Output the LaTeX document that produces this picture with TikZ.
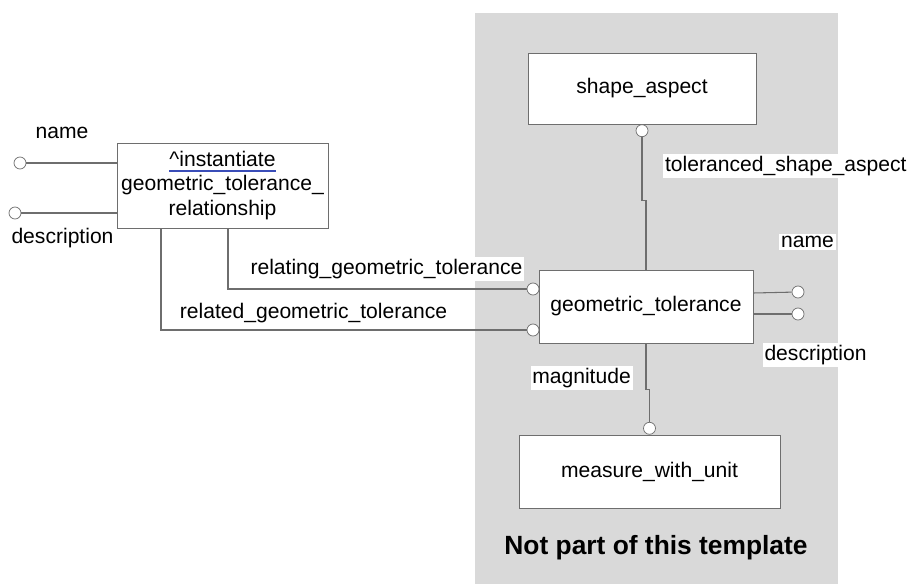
\documentclass[tikz,border=0pt]{standalone}
\usepackage{fontspec}
\setmainfont{Liberation Sans}
\usetikzlibrary{positioning, calc}

\definecolor{linegray}{HTML}{6E6E6E}
\definecolor{zonegray}{HTML}{D9D9D9}
\definecolor{ulblue}{HTML}{3A4DB8}
\newcommand{\blueunderline}[1]{\setbox0\hbox{#1}\rlap{\color{ulblue}\rule[-3.2pt]{\wd0}{1.3pt}}\box0}

\begin{document}
\begin{tikzpicture}[
  font=\fontsize{12}{14}\selectfont,
  entity/.style={draw=linegray, fill=white, minimum width=4.4cm, minimum height=1.46cm, align=center, inner sep=2pt},
  ring/.style={circle, draw=linegray, fill=white, minimum size=0.24cm, inner sep=0pt},
  link/.style={linegray, semithick},
  attr/.style={fill=white, inner sep=1pt},
]
\useasboundingbox (0,0) rectangle (18.24,11.68);
\fill[zonegray] (9.5,0) rectangle (16.76,11.42);
\node[font=\fontsize{15}{18}\selectfont\bfseries] (note) at (13.12,0.72) {Not part of this template};

% entities
\node[entity, minimum width=4.56cm, minimum height=1.42cm] (sa) at (12.84,9.91) {shape\_aspect};
\node[entity, minimum width=4.28cm] (gt) at (12.92,5.55) {geometric\_tolerance};
\node[entity, minimum width=5.22cm] (mwu) at (12.99,2.25) {measure\_with\_unit};
\node[entity, minimum width=4.22cm, minimum height=1.70cm] (gtr) at (4.45,7.97)
  {\blueunderline{\textasciicircum instantiate}\\ geometric\_tolerance\_\\ relationship};

% toleranced_shape_aspect
\node[ring, below=0pt of sa] (sac) {};
\draw[link] (sac.south) -- ++(0,-1.26) -| (gt.north);
\node[attr, anchor=west] (tsa) at (13.26,8.36) {toleranced\_shape\_aspect};

% magnitude
\node[ring, above=0pt of mwu] (mwuc) {};
\draw[link] (gt.south) -- ++(0,-0.92) -| (mwuc.north);
\node[attr] (mag) at (11.63,4.12) {magnitude};

% gt attributes
\node[ring] (gtn) at (15.96,5.84) {};
\node[ring] (gtd) at (15.96,5.40) {};
\draw[link] (gt.east |- 0,5.82) -- (gtn);
\draw[link] (gt.east |- gtd) -- (gtd);
\node[attr] (gtnl) at (16.15,6.84) {name};
\node[attr] (gtdl) at (16.31,4.58) {description};

% relationship attributes
\node[ring] (rn) at (0.40,8.42) {};
\node[ring] (rd) at (0.30,7.42) {};
\draw[link] (rn) -- (gtr.west |- rn);
\draw[link] (rd) -- (gtr.west |- rd);
\node (rnl) at (1.24,9.02) {name};
\node (rdl) at (1.25,6.92) {description};

% relating / related
\node[ring] (rgc) at (10.66,5.90) {};
\node[ring] (rdc) at (10.66,5.08) {};
\draw[link] (gtr.south -| 4.56,0) |- (rgc);
\draw[link] (gtr.south -| 3.22,0) |- (rdc);
\node[attr] (rgl) at (7.73,6.30) {relating\_geometric\_tolerance};
\node[attr] (rdl2) at (6.27,5.42) {related\_geometric\_tolerance};
\end{tikzpicture}
\end{document}
